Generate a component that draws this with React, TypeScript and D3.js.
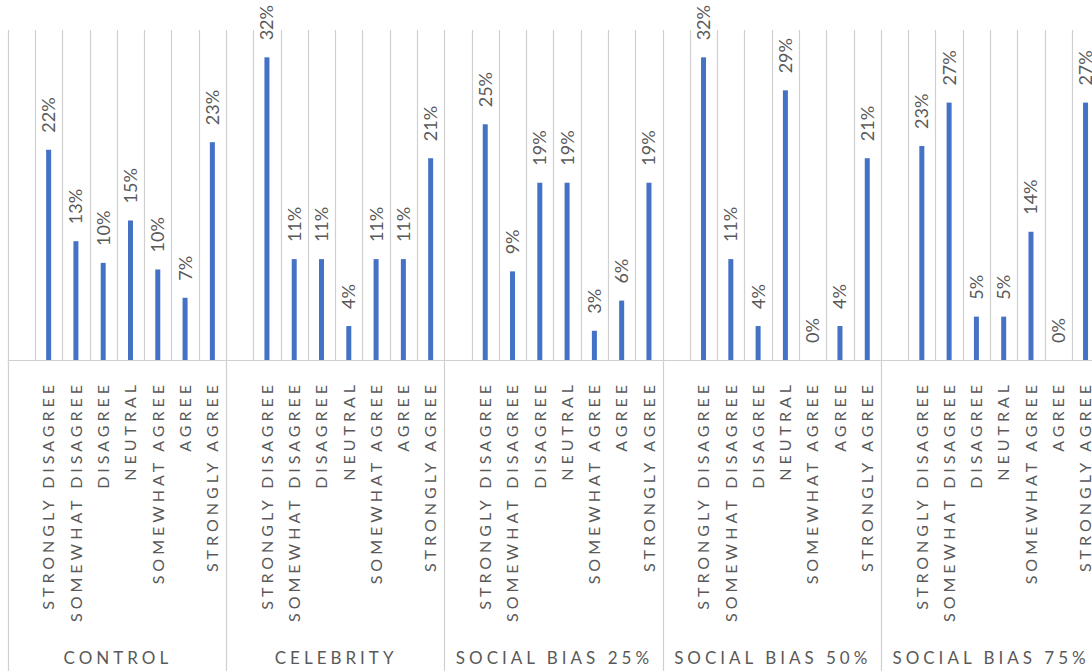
import React from "react";
import * as d3 from "d3";

// Survey responses per condition (share of respondents)
const groups = ["Control", "Celebrity", "Social Bias 25%", "Social Bias 50%", "Social Bias 75%"];
const responses = [
  "Strongly disagree",
  "Somewhat disagree",
  "Disagree",
  "Neutral",
  "Somewhat agree",
  "Agree",
  "Strongly agree",
];
const control = [0.223, 0.126, 0.103, 0.148, 0.096, 0.066, 0.231];
const celebrity = [0.321, 0.107, 0.107, 0.036, 0.107, 0.107, 0.214];
const socialBias25 = [0.25, 0.094, 0.188, 0.188, 0.031, 0.063, 0.188];
const socialBias50 = [0.321, 0.107, 0.036, 0.286, 0, 0.036, 0.214];
const socialBias75 = [0.227, 0.273, 0.046, 0.046, 0.136, 0, 0.273];
const seriesByGroup = [control, celebrity, socialBias25, socialBias50, socialBias75];

// each group starts with an empty slot before its seven responses
const slots = ["", ...responses];

const W = 1092;
const H = 671;
const plotLeft = 7.7;
const plotRight = 1099.2;
const plotTop = 30;
const baseline = 360;

const FONT = "Lato, 'Open Sans', sans-serif";
const TEXT = "#595959";
const GRID = "#d0d0d0";
const BAR = "#4472C4";

export default function App() {
  const outer = d3.scaleBand<string>().domain(groups).range([plotLeft, plotRight]);
  const inner = d3.scaleBand<string>().domain(slots).range([0, outer.bandwidth()]);
  const y = d3.scaleLinear().domain([0, 0.35]).range([baseline, plotTop]);
  const pct = d3.format(".0%");
  const crisp = (v: number) => Math.round(v) + 0.5;

  const gridXs: number[] = [];
  groups.forEach((g) => {
    slots.forEach((s) => gridXs.push(outer(g)! + inner(s)!));
  });
  gridXs.push(plotRight);
  const groupXs = [...groups.map((g) => outer(g)!), plotRight];

  return (
    <svg
      width={W}
      height={H}
      style={{ position: "fixed", left: 0, top: 0, background: "#fff" }}
    >
      {gridXs.map((x, i) => (
        <line key={"g" + i} x1={crisp(x)} x2={crisp(x)} y1={plotTop} y2={baseline} stroke={GRID} strokeWidth={1.2} />
      ))}
      {groupXs.map((x, i) => (
        <line key={"s" + i} x1={crisp(x)} x2={crisp(x)} y1={baseline} y2={H} stroke={GRID} strokeWidth={1.2} />
      ))}
      <line x1={plotLeft} x2={plotRight} y1={crisp(baseline)} y2={crisp(baseline)} stroke={GRID} strokeWidth={1.2} />

      {groups.map((g, gi) => (
        <g key={g}>
          {responses.map((r, ri) => {
            const v = seriesByGroup[gi][ri];
            const cx = outer(g)! + inner(r)! + inner.bandwidth() / 2;
            const top = y(v);
            return (
              <g key={r}>
                {v > 0 && (
                  <rect x={cx - 2.5} y={top} width={5} height={baseline - top} fill={BAR} />
                )}
                <text
                  transform={`translate(${cx},${top - 17}) rotate(-90)`}
                  dy="0.36em"
                  fill={TEXT}
                  fontFamily={FONT}
                  fontSize={18}
                  textAnchor="start"
                >
                  {pct(v)}
                </text>
                <text
                  transform={`translate(${cx},381) rotate(-90)`}
                  dy="0.36em"
                  fill={TEXT}
                  fontFamily={FONT}
                  fontSize={16}
                  letterSpacing={4}
                  textAnchor="end"
                >
                  {r.toUpperCase()}
                </text>
              </g>
            );
          })}
          <text
            x={outer(g)! + outer.bandwidth() / 2 + 1}
            y={664}
            fill={TEXT}
            fontFamily={FONT}
            fontSize={17}
            letterSpacing={4}
            textAnchor="middle"
          >
            {g.toUpperCase()}
          </text>
        </g>
      ))}
    </svg>
  );
}
